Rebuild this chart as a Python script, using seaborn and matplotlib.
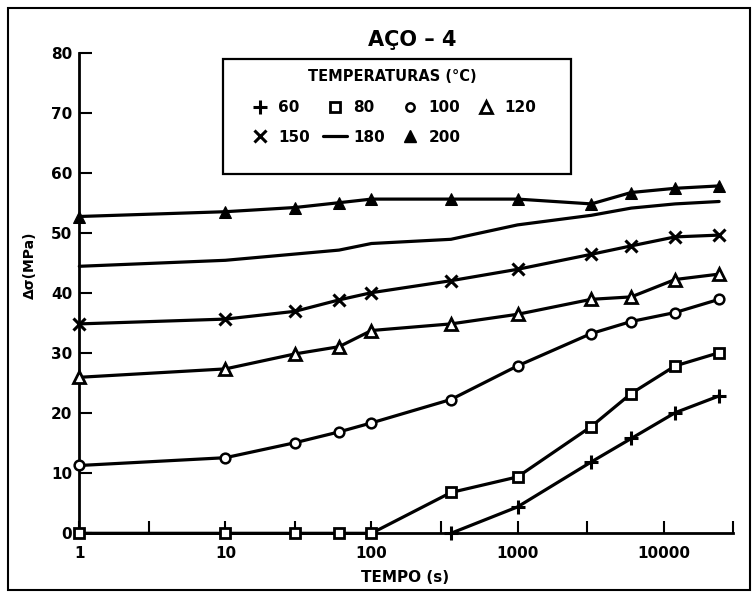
import matplotlib
matplotlib.use("Agg")
import matplotlib.pyplot as plt
import seaborn as sns
from matplotlib.lines import Line2D
from matplotlib.patches import Rectangle
from matplotlib.ticker import FixedLocator, NullFormatter

# ---------------- data ----------------
t_60 = [350, 1000, 3200, 6000, 12000, 24000]
v_60 = [0, 4.4, 11.9, 15.8, 20.1, 22.9]

t_all = [1, 10, 30, 60, 100, 350, 1000, 3200, 6000, 12000, 24000]
v_80 = [0, 0, 0, 0, 0, 6.8, 9.4, 17.8, 23.3, 27.9, 30.1]
v_100 = [11.3, 12.6, 15.1, 16.9, 18.4, 22.3, 27.9, 33.3, 35.3, 36.8, 39.0]
v_120 = [26.0, 27.4, 29.9, 31.1, 33.8, 34.9, 36.5, 39.0, 39.4, 42.3, 43.2]
v_150 = [34.9, 35.7, 37.0, 38.9, 40.1, 42.1, 44.0, 46.5, 47.9, 49.4, 49.7]

t_180 = [1, 10, 60, 100, 350, 1000, 3200, 6000, 12000, 24000]
v_180 = [44.5, 45.5, 47.2, 48.3, 49.0, 51.4, 53.0, 54.2, 54.9, 55.3]

v_200 = [52.8, 53.6, 54.3, 55.1, 55.7, 55.7, 55.7, 54.9, 56.8, 57.5, 57.9]

x_ticks = [1, 10, 100, 1000, 10000]
x_ticklabels = ["1", "10", "100", "1000", "10000"]
x_minor = [3, 30, 300, 3000, 30000]
y_ticks = [0, 10, 20, 30, 40, 50, 60, 70, 80]
y_ticklabels = ["0", "10", "20", "30", "40", "50", "60", "70", "80"]

title = "AÇO – 4"
legend_title = "TEMPERATURAS (°C)"
xlabel = "TEMPO (s)"
ylabel = "Δσ(MPa)"

# ---------------- style ----------------
sns.set_style("ticks")
plt.rcParams["font.family"] = ["DejaVu Sans"]
plt.rcParams["font.weight"] = "bold"
for k in ("text.color", "axes.labelcolor", "xtick.color", "ytick.color", "axes.edgecolor"):
    plt.rcParams[k] = "black"

W, H = 755, 593
fig = plt.figure(figsize=(W / 100, H / 100), dpi=100)
ax = fig.add_axes([79.3 / W, 1 - 533.3 / H, (733.3 - 79.3) / W, (533.3 - 53.3) / H])

lw = 2.3
common = dict(ax=ax, color="black", linewidth=lw, errorbar=None, clip_on=False, zorder=3)

series = [
    ("60", t_60, v_60, dict(marker="+", markersize=10, markeredgewidth=2.2,
                            markeredgecolor="black")),
    ("80", t_all, v_80, dict(marker="s", markersize=7, markerfacecolor="white",
                             markeredgecolor="black", markeredgewidth=2)),
    ("100", t_all, v_100, dict(marker="o", markersize=7, markerfacecolor="white",
                               markeredgecolor="black", markeredgewidth=1.8)),
    ("120", t_all, v_120, dict(marker="^", markersize=8, markerfacecolor="white",
                               markeredgecolor="black", markeredgewidth=2)),
    ("150", t_all, v_150, dict(marker="x", markersize=9, markeredgewidth=2.2,
                               markeredgecolor="black")),
    ("180", t_180, v_180, dict()),
    ("200", t_all, v_200, dict(marker="^", markersize=9, markerfacecolor="black",
                               markeredgecolor="black")),
]

for name, xs, ys, mk in series:
    sns.lineplot(x=xs, y=ys, legend=False, **common, **mk)

ax.set_xscale("log")
ax.set_xlim(1, 30000)
ax.set_ylim(0, 80)
ax.xaxis.set_major_locator(FixedLocator(x_ticks))
ax.set_xticklabels(x_ticklabels)
ax.xaxis.set_minor_locator(FixedLocator(x_minor))
ax.xaxis.set_minor_formatter(NullFormatter())
ax.set_yticks(y_ticks)
ax.set_yticklabels(y_ticklabels)

ax.tick_params(which="both", direction="in", length=9, width=1.5, color="black")
ax.tick_params(axis="both", which="major", labelsize=11, pad=5, labelcolor="black")
ax.tick_params(axis="x", which="major", pad=9)
for lab in ax.get_xticklabels() + ax.get_yticklabels():
    lab.set_fontweight("bold")

sns.despine(ax=ax, top=True, right=True)
for s in ("left", "bottom"):
    ax.spines[s].set_linewidth(2)
    ax.spines[s].set_color("black")

ax.set_xlabel(xlabel, fontsize=11, fontweight="bold", color="black")
ax.set_ylabel(ylabel, fontsize=10, fontweight="bold", color="black")
ax.xaxis.set_label_coords((405 - 79.3) / 654, (533.3 - 570) / 480)
ax.yaxis.set_label_coords((37 - 79.3) / 654, (533.3 - 265) / 480)

# title
fig.text(412.5 / W, 1 - 40 / H, title, ha="center", va="center",
         fontsize=15, fontweight="bold", color="black")

# legend (proxy handles: markers only, line for 180)
def h(name, **kw):
    base = dict(color="black", linestyle="none", markeredgecolor="black")
    base.update(kw)
    return Line2D([], [], label=name, **base)

handles = {
    "60": h("60", marker="+", markersize=10, markeredgewidth=2.2),
    "80": h("80", marker="s", markersize=7, markerfacecolor="white", markeredgewidth=2),
    "100": h("100", marker="o", markersize=6, markerfacecolor="white", markeredgewidth=1.8),
    "120": h("120", marker="^", markersize=8, markerfacecolor="white", markeredgewidth=2),
    "150": h("150", marker="x", markersize=8, markeredgewidth=2.2),
    "180": Line2D([], [], color="black", linewidth=lw, label="180"),
    "200": h("200", marker="^", markersize=9, markerfacecolor="black"),
}
order = ["60", "150", "80", "180", "100", "200", "120"]
leg = fig.legend([handles[k] for k in order], order, ncol=4, loc="upper left",
                 bbox_to_anchor=(240 / W, 1 - 61 / H), bbox_transform=fig.transFigure,
                 frameon=False, borderpad=0, title=legend_title,
                 prop=dict(size=11, weight="bold"), handlelength=1.6,
                 handletextpad=0.4, columnspacing=0.85, labelspacing=0.95)
leg.get_title().set_fontsize(10.5)
leg.get_title().set_fontweight("bold")
leg.get_title().set_color("black")
for txt in leg.get_texts():
    txt.set_color("black")
leg._legend_box.sep = 12

fig.patches.append(Rectangle((222.7 / W, 1 - 174.3 / H), 348 / W, 115 / H,
                             transform=fig.transFigure, fill=False,
                             edgecolor="black", linewidth=1.6))
# outer frame
fig.patches.append(Rectangle((8 / W, 1 - 590 / H), 742 / W, 582 / H,
                             transform=fig.transFigure, fill=False,
                             edgecolor="black", linewidth=1.5))

fig.savefig("out.png", dpi=100, facecolor="white")
